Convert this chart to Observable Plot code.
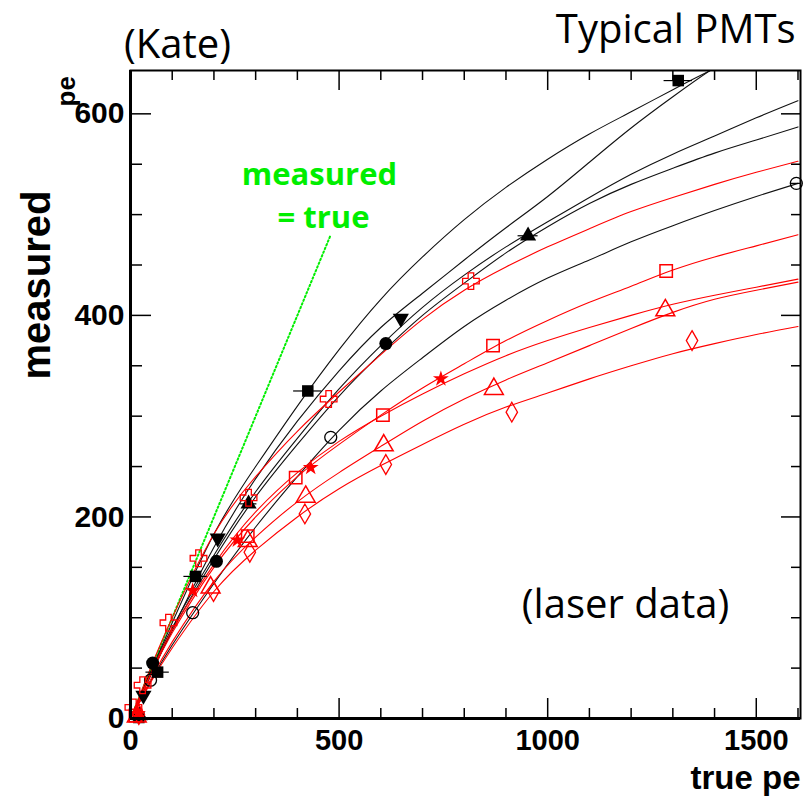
<!DOCTYPE html>
<html><head><meta charset="utf-8">
<script src="https://cdn.jsdelivr.net/npm/d3@7"></script>
<script src="https://cdn.jsdelivr.net/npm/@observablehq/plot@0.6"></script>
<style>body{margin:0;background:#fff}</style>
</head><body><div id="chart"></div>
<script>
// ---- data ----
const fitTrue = [0,50,100,200,300,400,500,600,700,800,900,1000,1100,1200,1300,1400,1500,1600];
// black fits
const fitB1 = [0,48,95,183,250,310,366,416,458,495,527,555,580,602,624,645,664,682];
const fitB2 = [0,44,88,170,238,295,345,388,422,455,487,518,552,586,617,646,672,697];
const fitB3 = [0,47,90,162,225,278,327,370,408,440,468,493,517,540,560,578,596,613];
const fitB4 = [0,45,87,158,220,272,320,362,400,432,462,488,511,530,546,561,574,587];
const fitB5 = [0,38,73,134,190,240,286,325,358,389,415,437,455,473,489,504,518,531];
// red fits
const fitR1 = [0,52,100,183,240,285,324,361,396,425,448,468,486,503,517,530,542,553];
const fitR2 = [0,45,85,150,200,240,272,301,328,352,375,395,413,429,445,458,469,480];
const fitR3 = [0,46,88,153,205,244,275,300,322,342,360,375,388,400,411,420,428,436];
const fitR4 = [0,40,76,136,180,215,244,270,295,317,336,353,370,387,403,416,425,433];
const fitR5 = [0,37,70,126,167,200,228,251,272,292,309,323,337,350,362,372,381,389];

// markers (with horizontal errors on true pe where visible)
const bSquareX = [20, 65, 156, 425, 1313], bSquareY = [1, 46, 141, 325, 633], bSquareErr = [0, 28, 28, 34, 34];
const bDownX = [31, 209, 648],            bDownY = [23, 179, 397];
const bDotX = [53, 206, 612],             bDotY = [55, 156, 372];
const bUpX = [22, 283, 953],              bUpY = [3, 213, 479], bUpErr = [0, 20, 24];
const bOpenX = [48, 149, 480, 1596],      bOpenY = [38, 105, 279, 531], bOpenErr = [0, 0, 0, 12];
const rCrossX = [7, 29, 91, 163, 283, 475, 816], rCrossY = [11, 33, 95, 159, 219, 317, 434];
const rSquareX = [12, 281, 396, 605, 869, 1284], rSquareY = [3, 181, 239, 301, 370, 444];
const rStarX = [18, 149, 256, 432, 744],  rStarY = [5, 127, 177, 249, 337];
const rTriX = [15, 192, 281, 420, 607, 871, 1282], rTriY = [2, 130, 176, 220, 271, 327, 405];
const rDiaX = [20, 199, 286, 418, 612, 914, 1346], rDiaY = [4, 126, 165, 203, 252, 304, 375];

const identity = [0, 480];

const xMajor = [0, 500, 1000, 1500];
const xMinor = [100,200,300,400,600,700,800,900,1100,1200,1300,1400,1600];
const yMajor = [0, 200, 400, 600];
const yMinor = [50,100,150,250,300,350,450,500,550];

// ---- helpers ----
const pts = (xs, ys, es) => xs.map((x, i) => ({x, y: ys[i], e: es ? es[i] : 0}));
const AX = "Liberation Sans, Arial, sans-serif";
const TF = "Open Sans, sans-serif";
const FW = 670, FH = 648;

const fitLine = (ys, color) => Plot.line(pts(fitTrue, ys), {x:"x", y:"y", stroke: color, strokeWidth: 1.1, curve: "natural", clip: true});
const errBar = (xs, ys, es) => Plot.ruleY(pts(xs, ys, es).filter(d => d.e > 0), {y:"y", x1: d => d.x - d.e, x2: d => d.x + d.e, stroke:"black", strokeWidth: 1.2});

const chart = Plot.plot({
  width: 812, height: 797,
  marginLeft: 130, marginRight: 12, marginTop: 70, marginBottom: 79,
  x: {domain: [0, 1606], axis: null},
  y: {domain: [0, 643], axis: null},
  style: {background: "white"},
  marks: [
    // identity
    Plot.line(pts(identity, identity), {x:"x", y:"y", stroke:"#00ee00", strokeWidth: 2, strokeDasharray: "1.5,2.5"}),
    // fits
    fitLine(fitB1, "#111"), fitLine(fitB2, "#111"), fitLine(fitB3, "#111"), fitLine(fitB4, "#111"), fitLine(fitB5, "#111"),
    fitLine(fitR1, "#ff0000"), fitLine(fitR2, "#ff0000"), fitLine(fitR3, "#ff0000"), fitLine(fitR4, "#ff0000"), fitLine(fitR5, "#ff0000"),
    // error bars
    errBar(bSquareX, bSquareY, bSquareErr), errBar(bUpX, bUpY, bUpErr), errBar(bOpenX, bOpenY, bOpenErr),
    // markers
    Plot.dot(pts(bSquareX, bSquareY), {x:"x", y:"y", symbol:"square", fill:"black", r: 6.5}),
    Plot.dot(pts(bDownX, bDownY), {x:"x", y:"y", symbol:"triangle", rotate: 180, fill:"black", r: 6}),
    Plot.dot(pts(bDotX, bDotY), {x:"x", y:"y", symbol:"circle", fill:"black", r: 6.5}),
    Plot.dot(pts(bUpX, bUpY), {x:"x", y:"y", symbol:"triangle", fill:"black", r: 6}),
    Plot.dot(pts(bOpenX, bOpenY), {x:"x", y:"y", symbol:"circle", fill:"none", stroke:"black", strokeWidth: 1.3, r: 6}),
    Plot.dot(pts(rCrossX, rCrossY), {x:"x", y:"y", symbol:"cross", fill:"none", stroke:"#ff0000", strokeWidth: 1.3, r: 7}),
    Plot.dot(pts(rSquareX, rSquareY), {x:"x", y:"y", symbol:"square", fill:"none", stroke:"#ff0000", strokeWidth: 1.5, r: 7}),
    Plot.dot(pts(rStarX, rStarY), {x:"x", y:"y", symbol:"star", fill:"#ff0000", r: 5}),
    Plot.dot(pts(rTriX, rTriY), {x:"x", y:"y", symbol:"triangle", fill:"none", stroke:"#ff0000", strokeWidth: 1.5, r: 7}),
    Plot.dot(pts(rDiaX, rDiaY), {x:"x", y:"y", symbol:"diamond", fill:"none", stroke:"#ff0000", strokeWidth: 1.3, r: 6}),
    // frame and ticks
    Plot.frame({stroke:"black", strokeWidth: 2}),
    Plot.ruleX([0], {stroke:"black", strokeWidth: 3}),
    Plot.ruleY([0], {stroke:"black", strokeWidth: 3}),
    Plot.tickX(xMajor, {x: d => d, insetTop: FH - 20, stroke:"black", strokeWidth: 1.5}),
    Plot.tickX(xMinor, {x: d => d, insetTop: FH - 10, stroke:"black", strokeWidth: 1.5}),
    Plot.tickX(xMajor, {x: d => d, insetBottom: FH - 20, stroke:"black", strokeWidth: 1.5}),
    Plot.tickX(xMinor, {x: d => d, insetBottom: FH - 10, stroke:"black", strokeWidth: 1.5}),
    Plot.tickY(yMajor, {y: d => d, insetRight: FW - 21, stroke:"black", strokeWidth: 1.5}),
    Plot.tickY(yMinor, {y: d => d, insetRight: FW - 12, stroke:"black", strokeWidth: 1.5}),
    Plot.tickY(yMajor, {y: d => d, insetLeft: FW - 19, stroke:"black", strokeWidth: 1.5}),
    Plot.tickY(yMinor, {y: d => d, insetLeft: FW - 9, stroke:"black", strokeWidth: 1.5}),
    // tick labels
    Plot.text(xMajor, {x: d => d, text: d => String(d), frameAnchor: "bottom", dy: 11, lineAnchor: "top", fontSize: 29, fontWeight: "bold", fontFamily: AX, fill: "black"}),
    Plot.text(yMajor, {y: d => d, text: d => String(d), frameAnchor: "left", dx: -6, textAnchor: "end", lineAnchor: "middle", fontSize: 30, fontWeight: "bold", fontFamily: AX, fill: "black"}),
    // axis titles
    Plot.text(["measured"], {frameAnchor: "left", rotate: -90, dx: -93, dy: -15, lineAnchor: "middle", fontSize: 40, fontWeight: "bold", fontFamily: AX, fill: "black"}),
    Plot.text(["true pe"], {frameAnchor: "bottom-right", textAnchor: "end", lineAnchor: "bottom", dy: 70, fontSize: 33, fontWeight: "bold", fontFamily: AX, fill: "black"}),
    Plot.text(["pe"], {frameAnchor: "top-left", rotate: -90, dx: -64, dy: 36, lineAnchor: "middle", fontSize: 26, fontWeight: "bold", fontFamily: AX, fill: "black"}),
    // annotations
    Plot.text(["(Kate)"], {frameAnchor: "top-left", dx: 47, dy: -13, textAnchor: "middle", lineAnchor: "bottom", fontSize: 40, fontFamily: TF, fill: "black"}),
    Plot.text(["Typical PMTs"], {frameAnchor: "top-right", dx: -5, dy: -28, textAnchor: "end", lineAnchor: "bottom", fontSize: 40, fontFamily: TF, fill: "black"}),
    Plot.text(["(laser data)"], {frameAnchor: "top-left", dx: 495, dy: 547, textAnchor: "middle", lineAnchor: "bottom", fontSize: 40, fontFamily: TF, fill: "black"}),
    Plot.text(["measured"], {frameAnchor: "top-left", dx: 189, dy: 114, textAnchor: "middle", lineAnchor: "bottom", fontSize: 31, fontWeight: "bold", fontFamily: TF, fill: "#00ee00"}),
    Plot.text(["= true"], {frameAnchor: "top-left", dx: 193, dy: 157, textAnchor: "middle", lineAnchor: "bottom", fontSize: 31, fontWeight: "bold", fontFamily: TF, fill: "#00ee00"})
  ]
});
document.getElementById("chart").appendChild(chart);
</script>
</body></html>
